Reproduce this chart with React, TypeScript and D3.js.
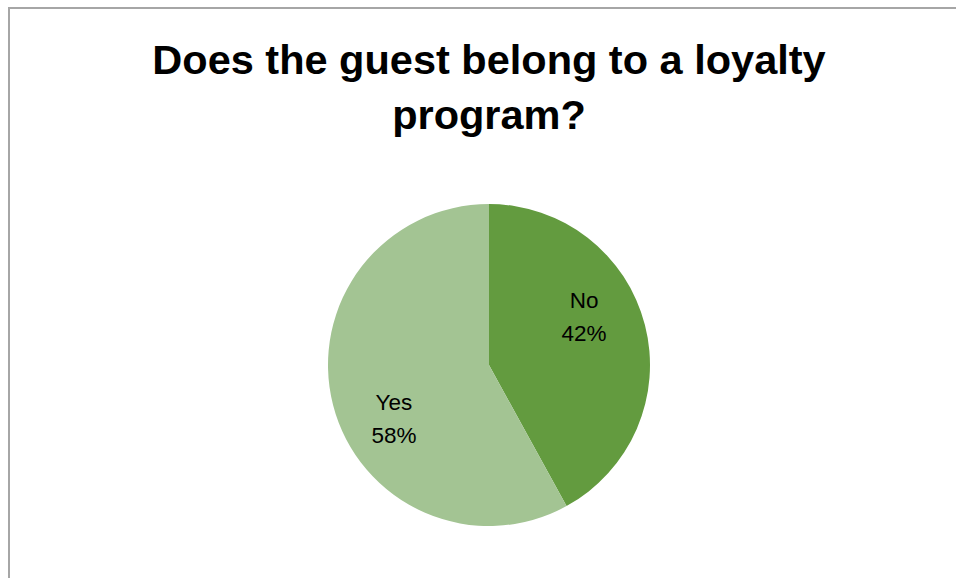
import React from "react";
import * as d3 from "d3";

const categories = ["No", "Yes"];
const values = [42, 58];
const titleLines = ["Does the guest belong to a loyalty", "program?"];
const colors = ["#639b3f", "#a3c493"];

export default function App() {
  const W = 956, H = 578;
  const cx = 489, cy = 365, r = 161;
  const data = categories.map((c, i) => ({ c, v: values[i] }));
  const pie = d3.pie<any>().value((d) => d.v).sort(null);
  const arcs = pie(data);
  const arc = d3.arc<any>().innerRadius(0).outerRadius(r);
  const total = d3.sum(values);
  const labelR = r * 0.67;
  const labelShift = -0.24;
  return (
    <svg width={W} height={H} style={{ position: "absolute", left: 0, top: 0 }}>
      <rect x={0} y={0} width={W} height={H} fill="#fff" />
      <path d={`M9,${H} V8 H${W}`} fill="none" stroke="#a6a6a6" strokeWidth={2} />
      {titleLines.map((t, i) => (
        <text key={i} x={489} y={74 + i * 55} textAnchor="middle" fontFamily="'Liberation Sans', Arial, sans-serif" fontWeight="bold" fontSize={41.5} fill="#000">
          {t}
        </text>
      ))}
      <g transform={`translate(${cx},${cy})`}>
        {arcs.map((a, i) => (
          <path key={i} d={arc(a) as string} fill={colors[i]} />
        ))}
        {arcs.map((a, i) => {
          const mid = (a.startAngle + a.endAngle) / 2 + labelShift;
          const x = labelR * Math.sin(mid);
          const y = -labelR * Math.cos(mid);
          const pct = Math.round((a.data.v / total) * 100) + "%";
          return (
            <text key={i} x={x} y={y} textAnchor="middle" fontFamily="'Liberation Sans', Arial, sans-serif" fontSize={22.5} fill="#000">
              <tspan x={x} dy="-0.25em">{a.data.c}</tspan>
              <tspan x={x} dy="1.45em">{pct}</tspan>
            </text>
          );
        })}
      </g>
    </svg>
  );
}
